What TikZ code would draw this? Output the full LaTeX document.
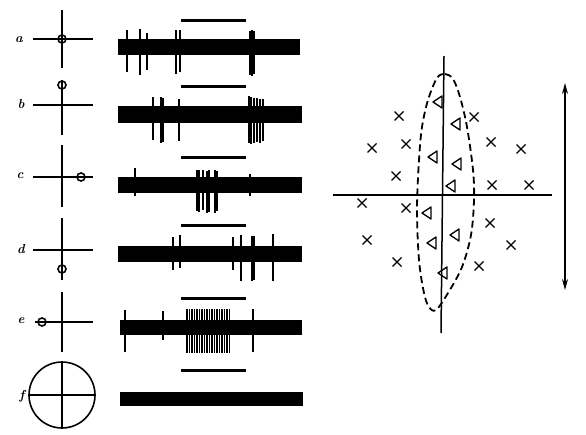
\documentclass[tikz,border=0pt]{standalone}
\usetikzlibrary{arrows.meta}

\begin{document}
\begin{tikzpicture}[
        x=1pt, y=-1pt,
        every node/.style={font=\fontsize{13}{15}\selectfont\bfseries\itshape},
        axis/.style={line width=2pt},
        hair/.style={line width=1.6pt},
        spot/.style={line width=1.6pt},
        stim/.style={line width=3pt},
        trace/.style={fill=black},
        spike/.style={line width=1.3pt},
        glyph/.style={line width=1.3pt},
      ]
      \useasboundingbox (0,0) rectangle (586,434);

      % receptive field positions
      \node (la) at (19,40) {a};
      \draw[axis] (62,10) -- (62,68);
      \draw[hair] (33,39) -- (93,39);
      \draw[spot] (62,39) circle (4);

      \node (lb) at (21,104) {b};
      \draw[axis] (62,80) -- (62,135);
      \draw[hair] (33,105) -- (93,105);
      \draw[spot] (62,85) circle (4);

      \node (lc) at (20,176) {c};
      \draw[axis] (62,145) -- (62,207);
      \draw[hair] (33,177) -- (93,177);
      \draw[spot] (81,177) circle (4);

      \node (ld) at (21,249) {d};
      \draw[axis] (62,218) -- (62,280);
      \draw[hair] (33,250) -- (93,250);
      \draw[spot] (62,269) circle (4);

      \node (le) at (21,321) {e};
      \draw[axis] (62,292) -- (62,352);
      \draw[hair] (35,322) -- (93,322);
      \draw[spot] (42,322) circle (4);

      \node (lf) at (22,396) {f};
      \draw[spot] (62,395) circle (33);
      \draw[axis] (62,362) -- (62,428);
      \draw[hair] (30,395) -- (94,395);

      % stimulus bars
      \foreach \y in {20,86,157,225,298,370}
        \draw[stim] (181,\y) -- (246,\y);

      % records
      \fill[trace] (118,39) rectangle (300,55);
      \foreach \x/\t/\b in {127/30/72, 140/29/75, 147/33/70, 176/30/74, 180/30/72,
                            250/31/75, 252/30/76, 254/31/74}
        \draw[spike] (\x,\t) -- (\x,\b);

      \fill[trace] (118,106) rectangle (302,123);
      \foreach \x/\t/\b in {153/97/140, 161/97/143, 163/98/142, 179/99/141,
                            249/96/143, 251/97/144, 254/98/143, 257/98/142, 260/99/143, 263/99/141}
        \draw[spike] (\x,\t) -- (\x,\b);

      \fill[trace] (118,177) rectangle (302,193);
      \foreach \x/\t/\b in {135/168/196, 197/170/211, 199/170/212, 203/170/210, 207/171/213,
                            209/170/212, 215/170/213, 217/171/211, 250/174/196}
        \draw[spike] (\x,\t) -- (\x,\b);

      \fill[trace] (118,246) rectangle (302,262);
      \foreach \x/\t/\b in {173/237/270, 180/235/268, 233/237/270, 241/235/281,
                            252/236/281, 254/236/280, 273/234/281}
        \draw[spike] (\x,\t) -- (\x,\b);

      \fill[trace] (120,320) rectangle (302,335);
      \foreach \x/\t/\b in {125/310/352, 163/311/340, 253/309/352}
        \draw[spike] (\x,\t) -- (\x,\b);
      \foreach \x in {187,189.5,...,231}
        \draw[spike, line width=1.1pt] (\x,309) -- (\x,353);

      \fill[trace] (120,392) rectangle (303,406);

      % field map
      \draw[line width=1.5pt] (333,195) -- (552,195);
      \draw[line width=1.5pt] (444,56) -- (441,333);
      \draw[line width=1.8pt, dash pattern=on 7pt off 4pt]
        plot[smooth cycle, tension=0.55] coordinates {
          (437,78) (445,74) (453,79) (460,97) (467,127) (473,170) (474,200)
          (471,235) (462,267) (448,293) (436,310) (429,307) (424,293)
          (419,260) (417,210) (419,160) (422,127) (428,100)};

      \foreach \x/\y in {399/116, 372/148, 406/144, 396/176, 474/117, 491/142,
                         521/149, 492/185, 529/185, 362/203, 406/208, 490/223,
                         367/240, 511/245, 397/262, 479/266}
        \draw[glyph] (\x-4.5,\y-4.5) -- (\x+4.5,\y+4.5) (\x-4.5,\y+4.5) -- (\x+4.5,\y-4.5);

      \foreach \x/\y in {438/102, 456/124, 433/157, 457/164, 451/186, 427/213,
                         455/235, 432/243, 443/273}
        \draw[glyph, line join=round] (\x-5,\y) -- (\x+4,\y-6) -- (\x+4,\y+6) -- cycle;

      \draw[line width=1.3pt, {Stealth[length=11pt,width=6pt]}-{Stealth[length=11pt,width=6pt]}]
        (565,83) -- (565,290);
    \end{tikzpicture}
\end{document}
